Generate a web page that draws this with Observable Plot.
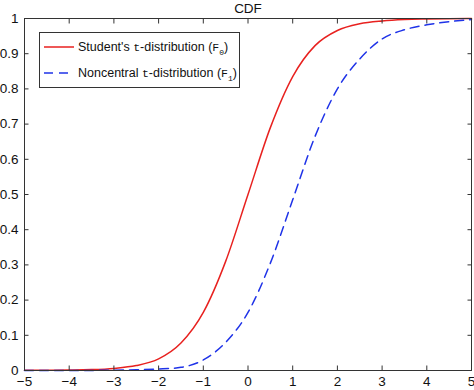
<!DOCTYPE html>
<html>
<head>
<meta charset="utf-8">
<script src="https://cdn.jsdelivr.net/npm/d3@7"></script>
<script src="https://cdn.jsdelivr.net/npm/@observablehq/plot@0.6"></script>
<style>
  html, body { margin: 0; padding: 0; background: #fff; }
  #wrap { position: relative; width: 474px; height: 390px; overflow: hidden; font-family: "Liberation Sans", Arial, sans-serif; }
  #legend { position: absolute; left: 39px; top: 32px; width: 199px; height: 54px; border: 1px solid #333; background: #fff; font-size: 12.5px; color: #111; }
  .row { position: absolute; left: 4px; height: 16px; display: flex; align-items: center; white-space: nowrap; }
  .row svg { margin-right: 4px; }
  .mono { font-family: "Liberation Mono", "DejaVu Sans Mono", monospace; font-size: 11.5px; }
  .sub { font-family: "Liberation Mono", monospace; font-size: 8px; position: relative; top: 4px; }
</style>
</head>
<body>
<div id="wrap">
  <div id="chart"></div>
  <div id="legend">
    <div class="row" style="top:6px"><svg width="30" height="4"><line x1="0" x2="30" y1="2" y2="2" stroke="#e8211f" stroke-width="1.5"/></svg><span>Student's <span class="mono">t</span>-distribution (<span class="mono">F</span><span class="sub">0</span>)</span></div>
    <div class="row" style="top:32px"><svg width="30" height="4"><line x1="0" x2="30" y1="2" y2="2" stroke="#1f33e8" stroke-width="1.5" stroke-dasharray="9,6"/></svg><span>Noncentral <span class="mono">t</span>-distribution (<span class="mono">F</span><span class="sub">1</span>)</span></div>
  </div>
</div>
<script>
const xs = [-5,-4.5,-4,-3.5,-3,-2.5,-2,-1.5,-1,-0.5,0,0.5,1,1.5,2,2.5,3,3.5,4,4.5,5];
const studentT = [0.0004,0.0007,0.0012,0.0025,0.006,0.014,0.033,0.078,0.165,0.31,0.5,0.69,0.835,0.923,0.966,0.985,0.993,0.997,0.9985,0.9993,0.9997];
const noncentralT = [0,0,0.0001,0.0003,0.0008,0.002,0.004,0.009,0.03,0.08,0.165,0.305,0.485,0.665,0.8,0.885,0.942,0.968,0.982,0.991,0.997];
const xTicks = [-5,-4,-3,-2,-1,0,1,2,3,4,5];
const yTicks = [0,0.1,0.2,0.3,0.4,0.5,0.6,0.7,0.8,0.9,1];
const yLabels = ["0","0.1","0.2","0.3","0.4","0.5","0.6","0.7","0.8","0.9","1"];
const title = "CDF";

const redData = xs.map((x, i) => ({x, y: studentT[i]}));
const blueData = xs.map((x, i) => ({x, y: noncentralT[i]}));
const axisColor = "#333";

const plot = Plot.plot({
  width: 474,
  height: 390,
  marginLeft: 24,
  marginRight: 3,
  marginTop: 18,
  marginBottom: 20,
  style: {fontFamily: "'Liberation Sans', Arial, sans-serif", fontSize: "13px", color: "#111", background: "#fff"},
  x: {domain: [-5, 5]},
  y: {domain: [0, 1]},
  marks: [
    Plot.line(redData, {x: "x", y: "y", stroke: "#e8211f", strokeWidth: 1.5, curve: "monotone-x"}),
    Plot.line(blueData, {x: "x", y: "y", stroke: "#1f33e8", strokeWidth: 1.5, strokeDasharray: "9,6", curve: "monotone-x"}),
    Plot.frame({stroke: axisColor, strokeWidth: 1}),
    Plot.axisX(xTicks, {anchor: "bottom", tickSize: 0, tickPadding: 6, label: null, fontSize: 13.5, fill: "#111"}),
    Plot.axisX(xTicks, {anchor: "bottom", tickSize: -4.5, text: null, stroke: axisColor, label: null}),
    Plot.axisX(xTicks, {anchor: "top", tickSize: -4.5, text: null, stroke: axisColor, label: null}),
    Plot.axisY(yTicks, {anchor: "left", tickSize: 0, tickPadding: 6, label: null, fontSize: 13.5, fill: "#111", tickFormat: (d, i) => yLabels[i]}),
    Plot.axisY(yTicks, {anchor: "left", tickSize: -4.5, text: null, stroke: axisColor, label: null}),
    Plot.axisY(yTicks, {anchor: "right", tickSize: -4.5, text: null, stroke: axisColor, label: null}),
    Plot.text([title], {frameAnchor: "top", lineAnchor: "middle", dy: -9.5, text: d => d, fontSize: 13.5, fill: "#111"})
  ]
});
document.getElementById("chart").appendChild(plot);
</script>
</body>
</html>
